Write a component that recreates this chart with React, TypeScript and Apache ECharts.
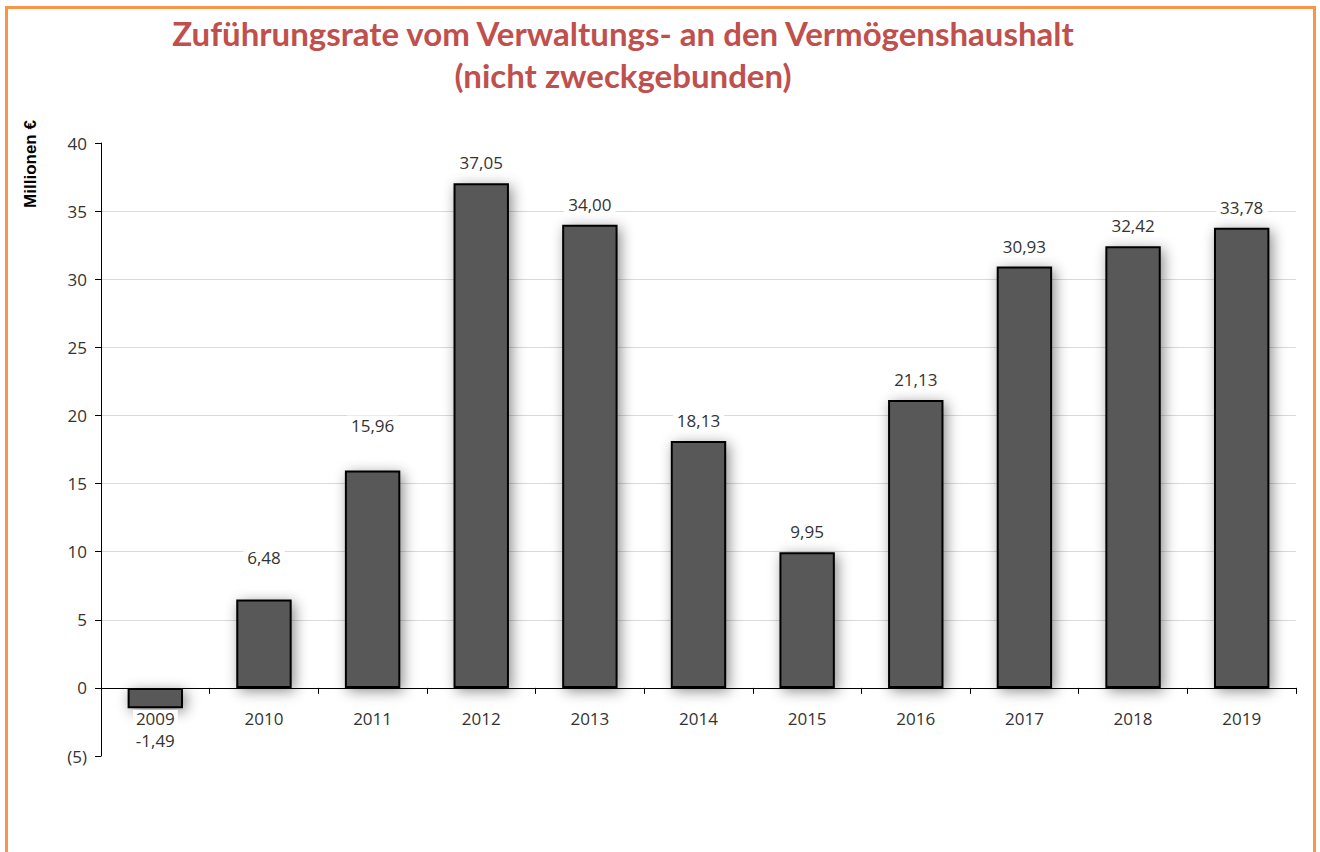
import React, { useEffect, useRef } from "react";
import * as echarts from "echarts";

const years = ["2009", "2010", "2011", "2012", "2013", "2014", "2015", "2016", "2017", "2018", "2019"];
const values = [-1.49, 6.48, 15.96, 37.05, 34.0, 18.13, 9.95, 21.13, 30.93, 32.42, 33.78];
const titleLines = ["Zuführungsrate vom Verwaltungs- an den Vermögenshaushalt", "(nicht zweckgebunden)"];
const yAxisTitle = "Millionen €";
const yMin = -5;
const yMax = 40;
const yStep = 5;

const fmt = (v: number) => v.toFixed(2).replace(".", ",");

export default function App() {
  const ref = useRef<HTMLDivElement>(null);
  useEffect(() => {
    if (!ref.current) return;
    const chart = echarts.init(ref.current, null, { renderer: "svg" });
    const gridTop = 143;
    const gridBottom = 96;
    const plotH = 852 - gridTop - gridBottom;
    // shift the category axis up from the bottom of the grid onto the zero line
    const zeroOffset = -((0 - yMin) / (yMax - yMin)) * plotH;
    const labelDistance: Record<number, number> = { 1: 32, 2: 34 };
    const data = values.map((v, i) => {
      const item: any = { value: v };
      if (v < 0) {
        item.label = { position: "bottom", distance: 22, backgroundColor: "transparent" };
      } else if (labelDistance[i] !== undefined) {
        item.label = { distance: labelDistance[i] };
      }
      return item;
    });
    chart.setOption({
      animation: false,
      backgroundColor: "#ffffff",
      textStyle: { fontFamily: "Open Sans" },
      grid: { left: 101, right: 24, top: gridTop, bottom: gridBottom, containLabel: false },
      xAxis: {
        type: "category",
        data: years,
        offset: zeroOffset,
        z: 5,
        axisLine: { onZero: false, lineStyle: { color: "#000000", width: 1 } },
        axisTick: { show: true, length: 6, alignWithLabel: false, lineStyle: { color: "#000000" } },
        axisLabel: {
          color: "#333333",
          fontSize: 17,
          margin: 22,
          fontFamily: "Open Sans",
          backgroundColor: "#ffffff",
          padding: [0, 3],
        },
        splitLine: { show: false },
      },
      yAxis: {
        type: "value",
        min: yMin,
        max: yMax,
        interval: yStep,
        axisLine: { show: true, lineStyle: { color: "#000000", width: 1 } },
        axisTick: { show: true, length: 6, lineStyle: { color: "#000000" } },
        axisLabel: {
          color: "#333333",
          fontSize: 17,
          margin: 14,
          fontFamily: "Open Sans",
          formatter: (v: number) => (v < 0 ? `(${-v})` : `${v}`),
        },
        splitLine: { show: true, showMinLine: false, showMaxLine: false, lineStyle: { color: "#D9D9D9", width: 1 } },
      },
      series: [
        {
          type: "bar",
          data,
          barWidth: "51%",
          z: 2,
          itemStyle: {
            color: "#595959",
            borderColor: "#000000",
            borderWidth: 2,
            shadowBlur: 14,
            shadowColor: "rgba(0,0,0,0.45)",
            shadowOffsetX: 3,
            shadowOffsetY: 3,
          },
          label: {
            show: true,
            position: "top",
            distance: 10,
            color: "#333333",
            fontSize: 17,
            fontFamily: "Open Sans",
            backgroundColor: "#ffffff",
            padding: [2, 4],
            formatter: (p: any) => fmt(p.value),
          },
        },
      ],
      graphic: [
        {
          type: "rect",
          shape: { x: 6.5, y: 7.5, width: 1308, height: 900 },
          style: { fill: "none", stroke: "#F79646", lineWidth: 3 },
          z: 10,
        },
        {
          type: "text",
          x: 623,
          y: 33,
          style: {
            text: titleLines[0],
            fill: "#C0504D",
            font: "bold 33px Lato",
            textAlign: "center",
            textVerticalAlign: "middle",
          },
        },
        {
          type: "text",
          x: 623,
          y: 75,
          style: {
            text: titleLines[1],
            fill: "#C0504D",
            font: "bold 33px Lato",
            textAlign: "center",
            textVerticalAlign: "middle",
          },
        },
        {
          type: "text",
          x: 30,
          y: 164,
          rotation: Math.PI / 2,
          style: {
            text: yAxisTitle,
            fill: "#000000",
            font: "bold 17px 'Liberation Sans'",
            textAlign: "center",
            textVerticalAlign: "middle",
          },
        },
      ],
    });
    return () => chart.dispose();
  }, []);
  return <div ref={ref} style={{ position: "fixed", left: 0, top: 0, width: 1320, height: 852 }} />;
}
